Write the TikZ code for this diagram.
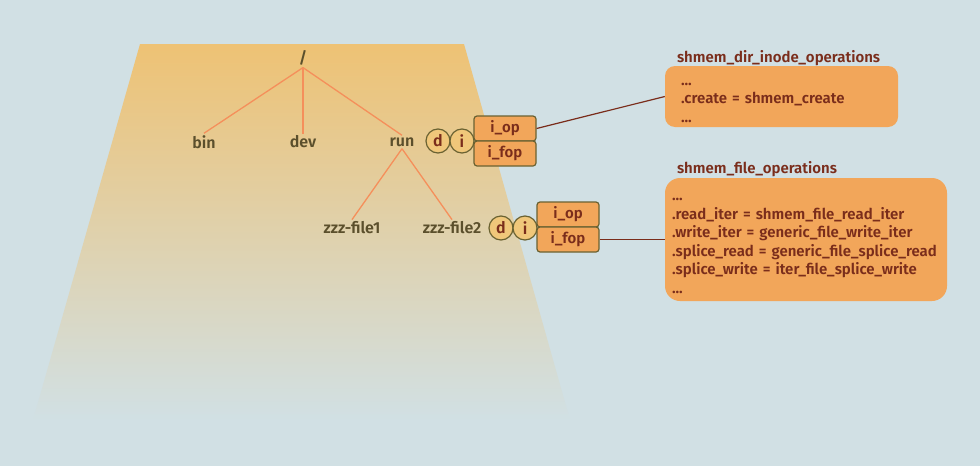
\documentclass[tikz,border=0pt]{standalone}
\usepackage{fontspec}
\setmainfont{Fira Sans}[BoldFont={Fira Sans SemiBold}]
\usepackage{xcolor}
\usetikzlibrary{calc, positioning}
\definecolor{bgcol}{HTML}{D1E0E4}
\definecolor{trapcol}{HTML}{EEC274}
\definecolor{treetxt}{HTML}{5B4F2C}
\definecolor{treeline}{HTML}{F58F5B}
\definecolor{circfill}{HTML}{F0C77A}
\definecolor{edgecol}{HTML}{6A6232}
\definecolor{boxfill}{HTML}{F2A65A}
\definecolor{boxtxt}{HTML}{7A2D1B}
\tikzset{
    lbl/.style={font=\bfseries\fontsize{16}{18}\selectfont, text=treetxt, inner sep=2pt},
    circ/.style={circle, draw=edgecol, line width=1.2pt, fill=circfill, minimum size=24pt, inner sep=0pt,
                 font=\bfseries\fontsize{16}{18}\selectfont, text=boxtxt},
    fld/.style={rectangle, rounded corners=3pt, draw=edgecol, line width=1.2pt, fill=boxfill,
                minimum width=62pt, minimum height=25pt, inner sep=0pt,
                font=\bfseries\fontsize{15}{18}\selectfont, text=boxtxt},
    ops/.style={rectangle, fill=boxfill, align=left, inner ysep=0pt,
                font=\bfseries\fontsize{15}{18.5}\selectfont, text=boxtxt,
                execute at begin node=\rule{0pt}{15pt}},
    ttl/.style={font=\bfseries\fontsize{15}{18}\selectfont, text=boxtxt, inner sep=0pt, anchor=base west},
    tree/.style={draw=treeline, line width=1.3pt},
    link/.style={draw=boxtxt, line width=1.2pt}
}
\begin{document}
\begin{tikzpicture}[x=1pt, y=-1pt]
                        \fill[bgcol] (0,0) rectangle (980,466);
                        \useasboundingbox (0,0) rectangle (980,466);
                        \shade[top color=trapcol, bottom color=bgcol] (140,44) -- (464,44) -- (570,420) -- (33,420) -- cycle;

                        % directory tree
                        \node[lbl] (root) at (303,58) {/};
                        \node[lbl] (bin) at (204,142) {bin};
                        \node[lbl] (dev) at (303,142) {dev};
                        \node[lbl] (run) at (402,142) {run};
                        \node[lbl] (file1) at (352,228) {zzz-file1};
                        \node[lbl] (file2) at (452,228) {zzz-file2};

                        \draw[tree]
                        (root.south) edge (bin.north)
                        (root.south) edge (dev.north)
                        (root.south) edge (run.north)
                        (run.south) edge (file1.north)
                        (run.south) edge (file2.north);

                        % inode of run
                        \node[circ] (d1) at (438,141) {d};
                        \node[circ] (i1) at (462,141) {i};
                        \node[fld] (op1) at (505,128.5) {i\_op};
                        \node[fld] (fop1) at (505,153.5) {i\_fop};

                        % inode of zzz-file2
                        \node[circ] (d2) at (501,228) {d};
                        \node[circ] (i2) at (525,228) {i};
                        \node[fld] (op2) at (568,214.5) {i\_op};
                        \node[fld] (fop2) at (568,239.5) {i\_fop};

                        % operation tables
                        \node[ops, rounded corners=10pt, minimum height=61pt, text width=201pt, inner xsep=16pt] (dir) at (781.5,96.5)
                        {...\\.create = shmem\_create\\...};
                        \node[ttl] (dirttl) at ($(dir.north west)+(12,-3)$) {shmem\_dir\_inode\_operations};

                        \node[ops, rounded corners=15pt, minimum height=123pt, text width=268pt, inner xsep=7pt] (file) at (806,239.5)
                        {...\\.read\_iter = shmem\_file\_read\_iter\\.write\_iter = generic\_file\_write\_iter\\.splice\_read = generic\_file\_splice\_read\\.splice\_write = iter\_file\_splice\_write\\...};
                        \node[ttl] (filettl) at ($(file.north west)+(12,-4)$) {shmem\_file\_operations};

                        \draw[link]
                        (op1.east) edge (dir.west)
                        (fop2.east) edge (file.west);
                    \end{tikzpicture}
\end{document}
